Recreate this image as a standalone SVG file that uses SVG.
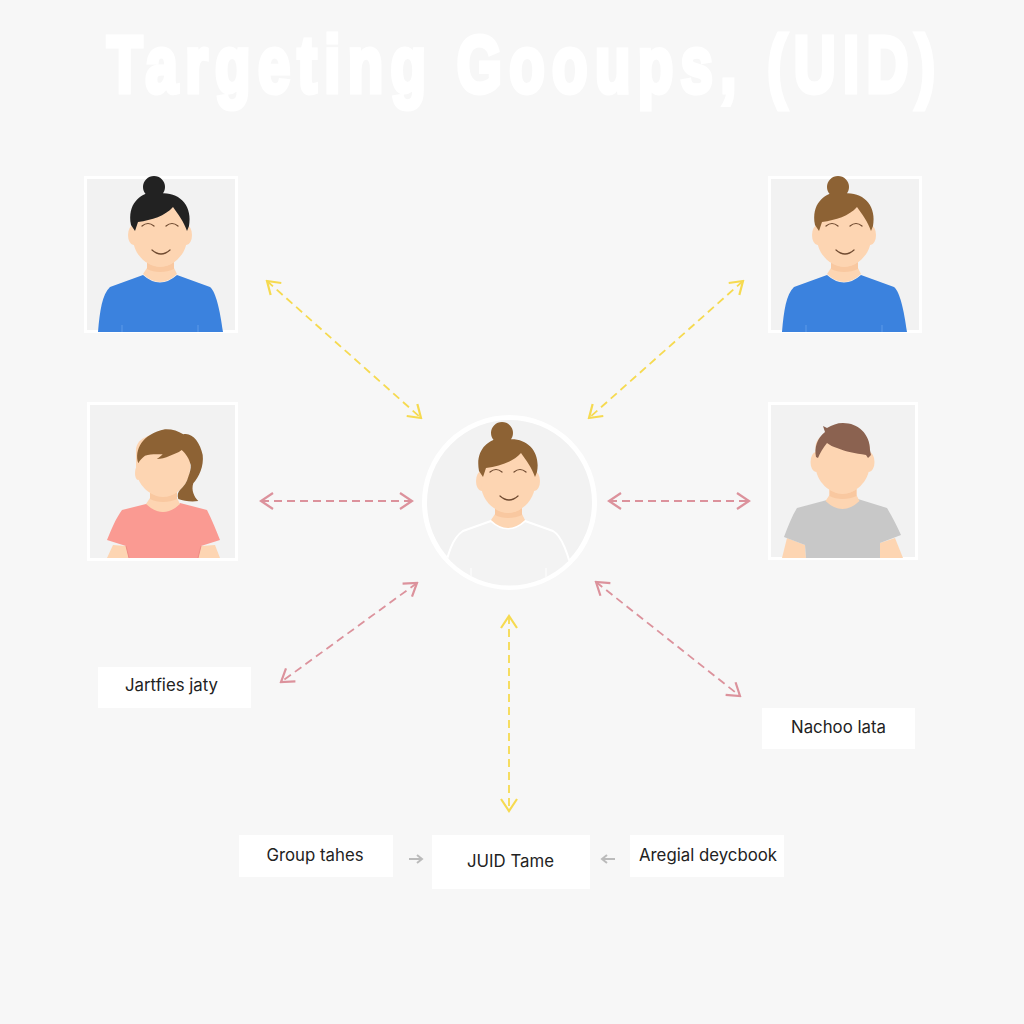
<svg xmlns="http://www.w3.org/2000/svg" width="1024" height="1024" viewBox="0 0 1024 1024">
<style>
.title{font-family:"Liberation Sans",Arial,sans-serif;font-weight:700;font-size:79px;letter-spacing:10px;fill:#fff;stroke:#fff;stroke-width:5px;stroke-linejoin:miter}
.panel{fill:#f2f2f2;stroke:#fff;stroke-width:3}
.skin{fill:#fdd5b2}
.shade{fill:#f9c8a0}
.line{fill:none;stroke:#6f4a30;stroke-width:1.200;stroke-linecap:round}
.box{fill:#fff}
.lbl{font-family:"Inter","Liberation Sans",sans-serif;font-size:16.800px;fill:#222;text-anchor:middle}
.yl{fill:none;stroke:#f6da50;stroke-width:1.800;stroke-dasharray:8 5;marker-start:url(#ay);marker-end:url(#ay)}
.pk{fill:none;stroke:#dc929c;stroke-width:1.800;stroke-dasharray:8 5;marker-start:url(#ap);marker-end:url(#ap)}
.gr{fill:none;stroke:#bbb;stroke-width:2;marker-end:url(#ag)}
.blue{fill:#3b82de}
.brown{fill:#8d6234}
</style>
<defs>
<marker id="ay" markerUnits="userSpaceOnUse" viewBox="-16 -10 18 20" refX="0" refY="0" markerWidth="18" markerHeight="20" orient="auto-start-reverse"><path d="M-12,-8 L0,0 L-12,8" fill="none" stroke="#f6da50" stroke-width="2.200"/></marker>
<marker id="ap" markerUnits="userSpaceOnUse" viewBox="-16 -10 18 20" refX="0" refY="0" markerWidth="18" markerHeight="20" orient="auto-start-reverse"><path d="M-12,-8 L0,0 L-12,8" fill="none" stroke="#dc929c" stroke-width="2.200"/></marker>
<marker id="ag" markerUnits="userSpaceOnUse" viewBox="-8 -6 10 12" refX="0" refY="0" markerWidth="10" markerHeight="12" orient="auto"><path d="M-5,-4 L0,0 L-5,4" fill="none" stroke="#bbb" stroke-width="2"/></marker>
<g id="ears">
<ellipse class="skin" cx="-26.500" cy="-5" rx="5.500" ry="10"/><ellipse class="skin" cx="26.500" cy="-5" rx="5.500" ry="10"/>
</g>
<g id="headBase">
<path class="skin" d="M-13,10 L14,10 L14,28 L17,34 Q0,50 -17,34 L-13,28Z"/>
<path class="shade" d="M-13,22 C-6,28 7,28 14,22 L14,29 C6,33 -6,33 -13,29Z"/>
<path class="skin" d="M-27,-20 L-27,-2 C-27,15 -12,27 0,27 C12,27 27,15 27,-2 L27,-20 C27,-42 -27,-42 -27,-20Z"/>
</g>
<g id="smile">
<path class="line" d="M-18,-14 Q-12,-19 -6,-14"/><path class="line" d="M6,-14 Q12,-19 18,-14"/><path class="line" d="M-8,10 Q1,18 10,10"/>
</g>
<path id="bunHair" d="M-29,-15 C-33,-36 -20,-46 -8,-48 L-3,-46 C18,-50 33,-35 29,-14 L27,-9 C24,-18 18,-26 13,-33 C5,-24 -8,-20 -22,-18 L-25,-9Z M-17,-53 A11,11 0 1 1 5,-53 A11,11 0 1 1 -17,-53Z"/>
<path id="tee" d="M-17,35 Q0,50 17,35 L50,47 C56,52 60,70 63,92 L-62,92 C-60,70 -58,55 -50,47Z"/>
<clipPath id="cc"><circle cx="509.500" cy="502.500" r="83"/></clipPath>
</defs>
<rect width="1024" height="1024" fill="#f7f7f7"/>
<text id="title" class="title" transform="translate(107,92) scale(.735,1)" x="0" y="0">Targeting Gooups, (UID)</text>

<g id="connectors">
<path class="yl" d="M267,281 L421,418"/>
<path class="yl" d="M743,281 L589,418"/>
<path class="pk" d="M261,501 L412,501"/>
<path class="pk" d="M609,501 L749,501"/>
<path class="pk" d="M417,583 L281,682"/>
<path class="pk" d="M596,582 L740,696"/>
<path class="yl" d="M509,616 L509,811"/>
<path class="gr" d="M409,859 L422,859"/>
<path class="gr" d="M615,859 L602,859"/>
</g>

<g id="person-top-left">
<rect class="panel" x="85.500" y="177.500" width="151" height="154"/>
<g transform="translate(160,240)">
<use href="#tee" class="blue"/>
<path d="M-38,85V92M38,85V92" stroke="#5e9ae8" stroke-width="1" fill="none"/>
<use href="#ears"/><use href="#headBase"/>
<use href="#bunHair" fill="#222"/>
<use href="#smile"/>
</g>
</g>

<g id="person-top-right">
<rect class="panel" x="769.500" y="177.500" width="151" height="154"/>
<g transform="translate(844,240)">
<use href="#tee" class="blue"/>
<path d="M-38,85V92M38,85V92" stroke="#5e9ae8" stroke-width="1" fill="none"/>
<use href="#ears"/><use href="#headBase"/>
<use href="#bunHair" class="brown"/>
<use href="#smile"/>
</g>
</g>

<g id="person-mid-left">
<rect class="panel" x="88.500" y="403.500" width="148" height="156"/>
<path class="skin" d="M113,545 L107,558 L130,558 L126,546Z M215,545 L220,558 L197,558 L201,546Z"/>
<path fill="#fa9a92" d="M150,503 Q165,518 180,503 L207,510 C212,520 216,530 220,540 L201,546 L198,558 L129,558 L126,546 L107,540 C111,530 116,518 122,510Z"/>
<path d="M129,558L126,546M198,558L201,546" stroke="#ee8a82" stroke-width="1" fill="none"/>
<ellipse class="skin" cx="138" cy="473" rx="3" ry="7"/>
<g transform="translate(163,470)"><use href="#headBase"/></g>
<path class="brown" d="M138.300,463.300 C134,450 142,434 165,429.300 C172,429 178,431 183.300,434.300 C192,432 200,442 202.700,455 C204,466 199,477 193.300,483.300 C191,490 194,497 198.300,501 C191,502 184,501 178.300,499 C177,495 178,492 180,490 C184,486 187,482 188.300,476.700 C190,472 191,469 190.700,465 C189,458 186,454 181.700,450 C178,453 174,454 170,455.700 C165,458 161,459 156.700,459 C159,458 161,456 162.700,454.300 C156,454 150,454 145,455.700 C142,458 140,460 138.300,463.300Z"/>
</g>

<g id="person-mid-right">
<rect class="panel" x="769.500" y="403.500" width="147" height="155"/>
<path class="skin" d="M787,538 L782,558 L806,558 L805,545Z M895,538 L903,558 L880,558 L880,543Z"/>
<path fill="#c8c8c8" d="M827,500 Q842,515 858,499 L887,508 C893,518 897,526 901,535 L880,543 L880,558 L806,558 L805,545 L784,537 C788,526 792,516 797,508Z"/>
<g transform="translate(842.500,467)"><use href="#ears"/><use href="#headBase"/></g>
<path fill="#8b6250" d="M816,457 C814,448 817,438 825,432 L823,426 L827,428 C832,425 837,423 843,423 C858,423 870,434 870,450 L871,455 L868,458 L866,455 C855,453 846,452 837,448 C833,447 830,445 827,443 C823,448 820,453 818,458Z"/>
</g>

<g id="person-center">
<circle cx="509.500" cy="502.500" r="85" fill="#f2f2f2" stroke="#fff" stroke-width="5"/>
<g clip-path="url(#cc)">
<g transform="translate(508,486)">
<path d="M-17,35 Q0,50 17,35 L45,45 C54,50 60,68 66,92 L66,120 L-66,120 L-66,92 C-60,68 -56,52 -45,45Z" fill="#f3f3f3" stroke="#fff" stroke-width="2"/>
<path d="M-37,82V92M38,82V92" stroke="#fff" stroke-width="1" fill="none"/>
<use href="#ears"/><use href="#headBase"/>
<use href="#bunHair" class="brown"/>
<use href="#smile"/>
</g>
</g>
</g>

<g id="node-jartfies"><rect class="box" x="98" y="667" width="153" height="41"/><text class="lbl" x="171.500" y="691">Jartfies jaty</text></g>
<g id="node-nachoo"><rect class="box" x="762" y="708" width="153" height="41"/><text class="lbl" x="838.500" y="733">Nachoo lata</text></g>
<g id="node-group"><rect class="box" x="239" y="835" width="154" height="42"/><text class="lbl" x="315" y="861">Group tahes</text></g>
<g id="node-juid"><rect class="box" x="432" y="835" width="158" height="54"/><text class="lbl" x="510.500" y="867">JUID Tame</text></g>
<g id="node-aregial"><rect class="box" x="630" y="835" width="154" height="42"/><text class="lbl" x="708" y="861">Aregial deycbook</text></g>
</svg>
